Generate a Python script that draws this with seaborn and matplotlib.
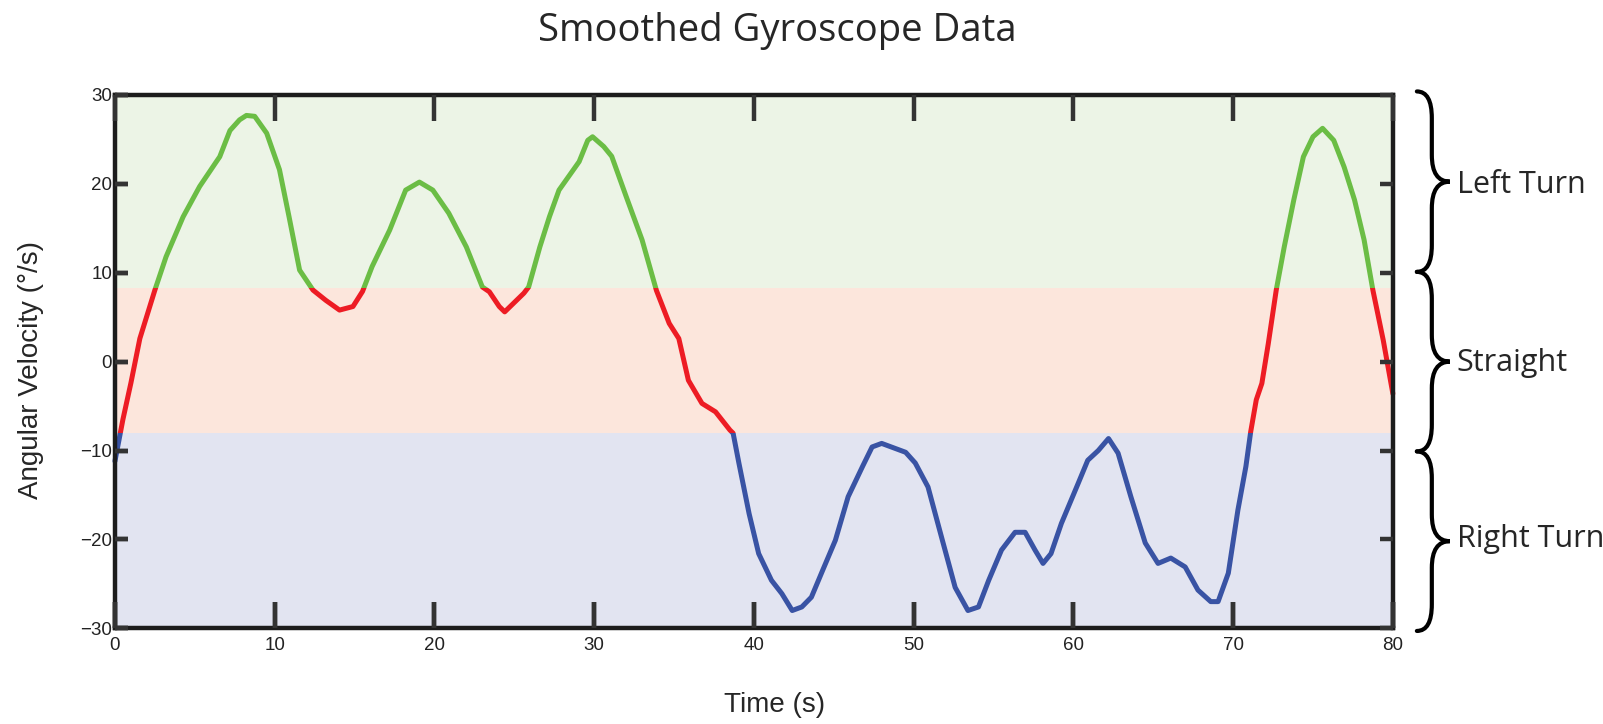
import numpy as np
import pandas as pd
import matplotlib
matplotlib.use('Agg')
import matplotlib.pyplot as plt
import matplotlib.transforms as mtransforms
from matplotlib.path import Path
from matplotlib.patches import PathPatch, Rectangle
import seaborn as sns

# data
time_s = [0.0, 0.5, 1.0, 1.56, 2.5, 3.2, 4.27, 5.3, 6.35, 6.56, 7.2, 7.8, 8.23, 8.75,
          9.5, 10.3, 10.9, 11.56, 12.4, 13.2, 14.06, 14.9, 15.5, 16.1, 17.2, 18.2,
          19.06, 19.9, 20.9, 22.0, 23.0, 23.44, 24.06, 24.4, 25.6, 25.9, 26.6, 27.2,
          27.8, 29.06, 29.6, 29.9, 30.6, 31.1, 32.0, 33.0, 33.9, 34.7, 35.3, 35.9,
          36.75, 37.6, 38.5, 38.7, 39.06, 39.7, 40.3, 41.1, 41.75, 42.4, 43.0, 43.6,
          44.3, 45.1, 45.9, 46.8, 47.4, 48.0, 48.6, 49.5, 50.1, 50.9, 51.8, 52.6,
          53.4, 54.06, 54.7, 55.5, 56.35, 56.98, 57.6, 58.1, 58.6, 59.25, 60.3, 60.9,
          61.56, 62.2, 62.8, 63.6, 64.5, 65.3, 66.1, 67.0, 67.8, 68.6, 69.06, 69.7,
          70.3, 70.8, 71.1, 71.45, 71.8, 72.2, 72.7, 73.2, 73.8, 74.4, 75.0, 75.6,
          76.3, 76.95, 77.6, 78.2, 78.75, 79.4, 80.0]
ang_vel = [-11.2, -6.5, -2.4, 2.6, 8.05, 11.8, 16.3, 19.7, 22.5, 23.05, 26.0, 27.2, 27.7,
           27.6, 25.7, 21.6, 16.3, 10.3, 8.05, 6.9, 5.8, 6.2, 7.9, 10.7, 14.8, 19.3,
           20.2, 19.3, 16.7, 12.9, 8.4, 7.86, 6.2, 5.6, 7.7, 8.4, 12.9, 16.3,
           19.3, 22.5, 24.9, 25.3, 24.2, 23.1, 18.6, 13.7, 8.0, 4.3, 2.6, -2.1,
           -4.7, -5.65, -7.7, -8.05, -11.4, -17.1, -21.6, -24.6, -26.1, -28.0, -27.6, -26.5,
           -23.5, -20.1, -15.2, -11.8, -9.6, -9.2, -9.6, -10.2, -11.4, -14.1, -20.1, -25.4,
           -28.0, -27.6, -24.6, -21.2, -19.2, -19.2, -21.2, -22.7, -21.6, -18.2, -13.7, -11.1,
           -10.0, -8.65, -10.3, -15.2, -20.4, -22.7, -22.1, -23.1, -25.7, -27.0, -27.0, -23.8,
           -16.7, -11.8, -7.9, -4.3, -2.45, 2.0, 8.05, 12.9, 18.2, 23.05, 25.3, 26.25,
           24.9, 21.9, 18.2, 13.7, 8.05, 2.4, -3.6]

# bands: (label, low, high, background, line colour)
band_names = ['Left Turn', 'Straight', 'Right Turn']
band_low = [8.3, -8.0, -30.0]
band_high = [30.0, 8.3, -8.0]
band_bg = ['#ecf4e6', '#fce6dc', '#e2e4f1']
band_line = ['#6bbd45', '#ed1c24', '#3953a4']
brace_spans = [(30.4, 10.1), (10.1, -10.1), (-10.1, -30.3)]
brace_text_y = [19.9, -0.2, -20.0]
x_ticks = list(range(0, 81, 10))
y_ticks = list(range(-30, 31, 10))

df = pd.DataFrame({'t': time_s, 'w': ang_vel})

sns.set_style('white', {'xtick.bottom': True, 'ytick.left': True,
                        'xtick.top': True, 'ytick.right': True})
plt.rcParams['font.family'] = ['Liberation Sans', 'DejaVu Sans']

rect = [0.0717, 0.1322, 0.7972, 0.7366]
fig = plt.figure(figsize=(16.03, 7.24), dpi=100)
ax = fig.add_axes(rect)
ax.set_axisbelow(False)

for lo, hi, bg, lc in zip(band_low, band_high, band_bg, band_line):
    ax.axhspan(lo, hi, color=bg, lw=0, zorder=0)
    sns.lineplot(data=df, x='t', y='w', sort=False, estimator=None,
                 color=lc, lw=3.6, ax=ax, zorder=2)
    # keep only the part of the line inside this band
    ext_lo = lo if lo > -30 else -60
    ext_hi = hi if hi < 30 else 60
    clip = Rectangle((-10, ext_lo), 100, ext_hi - ext_lo, transform=ax.transData)
    ax.lines[-1].set_clip_path(clip)

ax.set_xlim(0, 80)
ax.set_ylim(-30, 30)
ax.set_xticks(x_ticks)
ax.set_yticks(y_ticks)
ax.set_xlabel('')
ax.set_ylabel('')

for s in ax.spines.values():
    s.set_edgecolor('#1c1c1c')
    s.set_linewidth(3.2)

ax.tick_params(axis='both', which='major', direction='in', top=True, right=True,
               bottom=True, left=True, color='#333333', width=3.2,
               labelsize=13.5, labelcolor='#222222')
ax.tick_params(axis='x', length=19, pad=6)
ax.tick_params(axis='y', length=9.5, pad=2)

# a clean, transparent axes laid on top, only for the bottom / left tick marks
axt = fig.add_axes(rect, facecolor='none')
axt.set_xlim(0, 80)
axt.set_ylim(-30, 30)
axt.set_xticks(x_ticks)
axt.set_yticks(y_ticks)
for s in axt.spines.values():
    s.set_visible(False)
axt.tick_params(axis='both', direction='in', bottom=True, left=True, top=False,
                right=False, labelbottom=False, labelleft=False,
                color='#333333', width=3.2)
axt.tick_params(axis='x', length=19)
axt.tick_params(axis='y', length=9.5)

fig.text(0.4847, 0.957, 'Smoothed Gyroscope Data', ha='center', va='center',
         fontsize=27.5, family=['Open Sans', 'DejaVu Sans'])
fig.text(0.0193, 0.489, 'Angular Velocity (°/s)', rotation=90, ha='center',
         va='center', fontsize=20)
fig.text(0.4835, 0.026, 'Time (s)', ha='center', va='center', fontsize=20)

# curly braces on the right, x in axes fraction, y in data
trans = mtransforms.blended_transform_factory(ax.transAxes, ax.transData)
xe, xs, xt, d = 1.0188, 1.0305, 1.0446, 3.0
for (y0, y1), name, ty in zip(brace_spans, band_names, brace_text_y):
    ym = (y0 + y1) / 2
    verts = [(xe, y0), (xs, y0), (xs, y0 - d), (xs, ym + d), (xs, ym), (xt, ym),
             (xs, ym), (xs, ym - d), (xs, y1 + d), (xs, y1), (xe, y1)]
    codes = [Path.MOVETO, Path.CURVE3, Path.CURVE3, Path.LINETO, Path.CURVE3,
             Path.CURVE3, Path.CURVE3, Path.CURVE3, Path.LINETO, Path.CURVE3, Path.CURVE3]
    ax.add_patch(PathPatch(Path(verts, codes), fill=False, lw=3, color='black',
                           transform=trans, clip_on=False, capstyle='round'))
    ax.text(1.05, ty, name, transform=trans, ha='left', va='center', fontsize=22,
            family=['Open Sans', 'DejaVu Sans'])

plt.savefig('out.png', dpi=100)
plt.close()
